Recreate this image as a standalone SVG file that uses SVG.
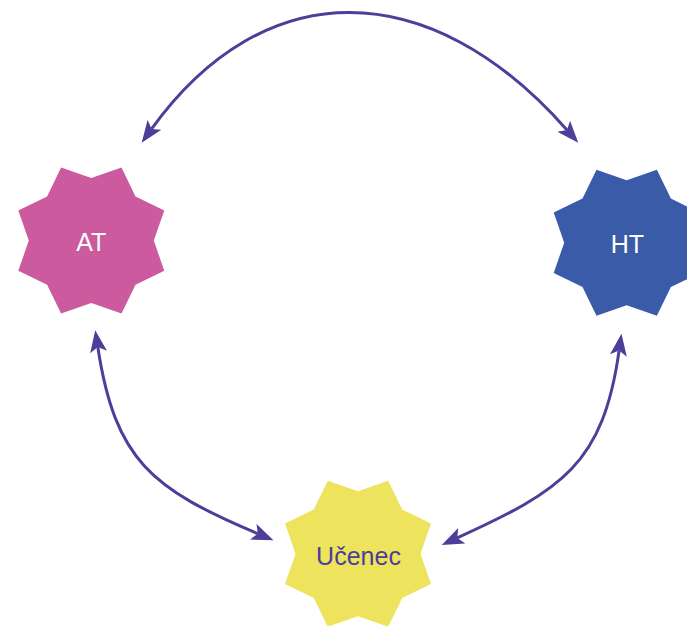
<svg xmlns="http://www.w3.org/2000/svg" xmlns:xlink="http://www.w3.org/1999/xlink" width="687" height="626" viewBox="0 0 687 626">
  <style>
    .conn { fill: none; stroke: #4B3F99; stroke-width: 3; }
    .lbl { font-family: "Liberation Sans", Arial, sans-serif; font-size: 25px; text-anchor: middle; }
  </style>
  <defs>
    <polygon id="star8" points="30.2,-73 44.2,-44.2 73,-30.2 62.5,0 73,30.2 44.2,44.2 30.2,73 0,62.5 -30.2,73 -44.2,44.2 -73,30.2 -62.5,0 -73,-30.2 -44.2,-44.2 -30.2,-73 0,-62.5"/>
    <marker id="arr" markerUnits="userSpaceOnUse" markerWidth="24" markerHeight="18" viewBox="0 0 24 18" refX="5" refY="9" orient="auto-start-reverse">
      <path d="M0,0.5 L22,9 L0,17.5 L5,9 Z" fill="#4B3F99"/>
    </marker>
  </defs>
  <rect width="687" height="626" fill="#FFFFFF"/>
  <g id="connectors">
    <path class="conn" d="M151.6,128.9 C263.6,-26.5 429,-26.5 567,130" marker-start="url(#arr)" marker-end="url(#arr)"/>
    <path class="conn" d="M97.8,347.1 C115.1,460.8 152,488.8 257.8,533.7" marker-start="url(#arr)" marker-end="url(#arr)"/>
    <path class="conn" d="M619.1,350.6 C603,464.5 561.9,490.2 457.2,537.9" marker-start="url(#arr)" marker-end="url(#arr)"/>
  </g>
  <g id="node-AT">
    <use xlink:href="#star8" href="#star8" transform="translate(91.3,240.6)" fill="#CC5A9E"/>
    <text class="lbl" x="91.3" y="250.7" fill="#FFFFFF">AT</text>
  </g>
  <g id="node-HT">
    <use xlink:href="#star8" href="#star8" transform="translate(626.7,242.8)" fill="#3A5BA8"/>
    <text class="lbl" x="627.3" y="253.3" fill="#FFFFFF">HT</text>
  </g>
  <g id="node-Ucenec">
    <use xlink:href="#star8" href="#star8" transform="translate(358,553.7)" fill="#EEE35D"/>
    <text class="lbl" x="358.5" y="565" fill="#4B3F99">Učenec</text>
  </g>
</svg>
